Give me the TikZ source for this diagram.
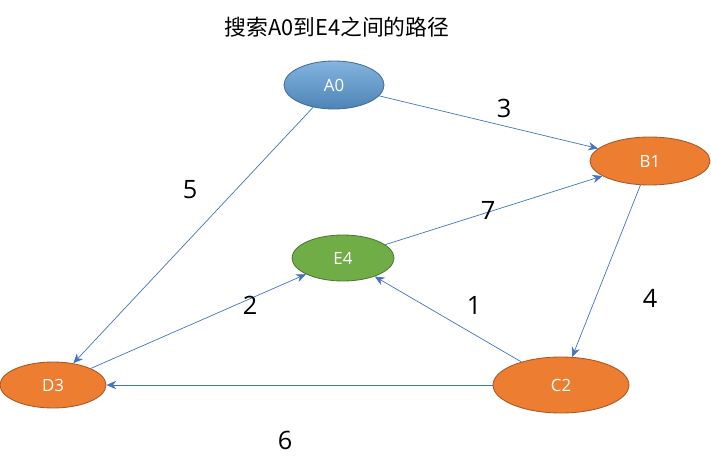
\documentclass[tikz,border=0pt]{standalone}
\usepackage{fontspec}
\setmainfont{Open Sans}
\newfontfamily\cjk{Noto Sans CJK SC}
\usetikzlibrary{arrows.meta,shapes.geometric}
\definecolor{edgeblue}{HTML}{4472C4}
\definecolor{nodeblue}{HTML}{5B9BD5}
\definecolor{nodeorange}{HTML}{ED7D31}
\definecolor{nodegreen}{HTML}{70AD47}
\tikzset{
  vertex/.style={ellipse,draw,line width=0.6pt,text=white,font=\fontsize{12}{14}\selectfont,inner sep=0pt},
  orangev/.style={vertex,fill=nodeorange,draw=nodeorange!70!black},
  link/.style={draw=edgeblue,line width=0.5pt,-{Stealth[length=7pt,width=6pt]}},
  weight/.style={font=\fontsize{18}{20}\selectfont}
}
\begin{document}
\begin{tikzpicture}[x=0.025cm,y=-0.025cm]
  \useasboundingbox (0,0) rectangle (711,473);
  \node[font=\cjk\fontsize{15.5}{18}\selectfont] (title) at (337,27) {搜索A0到E4之间的路径};
  % vertices
  \node[vertex,minimum width=100*0.025cm,minimum height=48*0.025cm,
        top color=nodeblue!75!white,bottom color=nodeblue!85!black,draw=nodeblue!70!black] (A0) at (334,85) {A0};
  \node[orangev,minimum width=120*0.025cm,minimum height=48*0.025cm] (B1) at (650,161) {B1};
  \node[vertex,fill=nodegreen,draw=nodegreen!70!black,minimum width=102*0.025cm,minimum height=46*0.025cm] (E4) at (343,258) {E4};
  \node[orangev,minimum width=106*0.025cm,minimum height=46*0.025cm] (D3) at (53,385) {D3};
  \node[orangev,minimum width=136*0.025cm,minimum height=56*0.025cm] (C2) at (561,385) {C2};
  % edges
  \draw[link] (A0) -- (B1);
  \draw[link] (A0) -- (D3);
  \draw[link] (B1) -- (C2);
  \draw[link] (C2) -- (E4);
  \draw[link] (E4) -- (B1);
  \draw[link] (D3) -- (E4);
  \draw[link] (C2) -- (D3);
  % weights
  \node[weight] (w3) at (504,108) {3};
  \node[weight] (w5) at (190,190) {5};
  \node[weight] (w4) at (650,298) {4};
  \node[weight] (w1) at (474,305) {1};
  \node[weight] (w7) at (488,210) {7};
  \node[weight] (w2) at (250,305) {2};
  \node[weight] (w6) at (285,440) {6};
\end{tikzpicture}
\end{document}
